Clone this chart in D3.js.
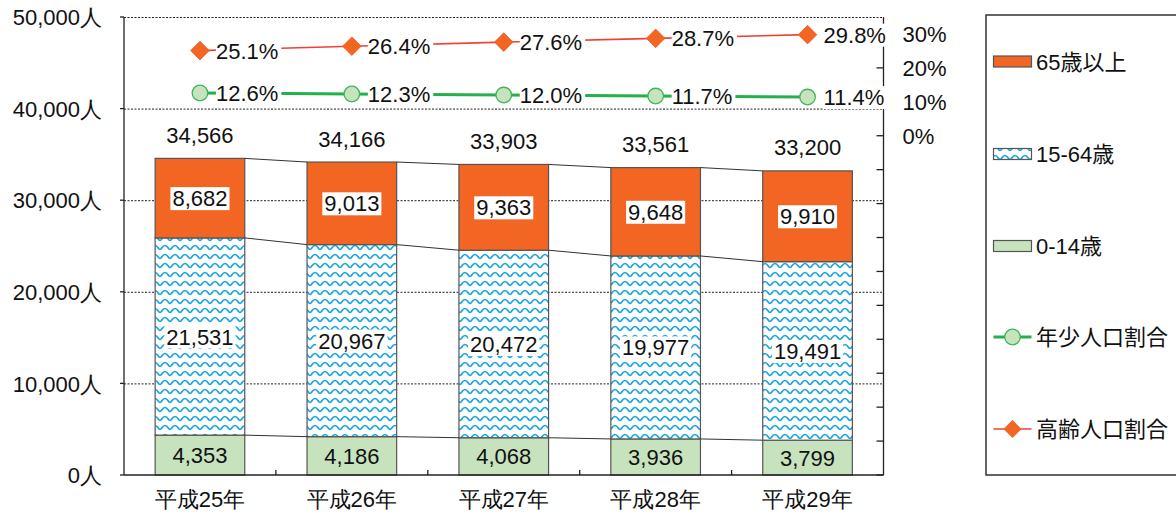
<!DOCTYPE html>
<html><head><meta charset="utf-8">
<script src="https://cdn.jsdelivr.net/npm/d3@7"></script>
<style>
body{margin:0;background:#fff;}
svg{display:block;font-family:"Liberation Sans",Arial,"Noto Sans CJK JP",sans-serif;}
</style></head><body>
<svg id="c" width="1176" height="517"></svg>
<script>
const years = ["平成25年","平成26年","平成27年","平成28年","平成29年"];
const age0_14 = [4353,4186,4068,3936,3799];
const age15_64 = [21531,20967,20472,19977,19491];
const age65 = [8682,9013,9363,9648,9910];
const totals = [34566,34166,33903,33561,33200];
const youthRatio = [12.6,12.3,12.0,11.7,11.4];
const elderRatio = [25.1,26.4,27.6,28.7,29.8];
const leftTicks = [0,10000,20000,30000,40000,50000];
const rightTicks = [-100,-90,-80,-70,-60,-50,-40,-30,-20,-10,0,10,20,30];
const rightLabelTicks = [0,10,20,30];
const legendItems = ["65歳以上","15-64歳","0-14歳","年少人口割合","高齢人口割合"];

const svg = d3.select("#c");
const L=124, R=883.5, T=17, B=475;
const FS=22;
const C_OLD="#F26522", C_YOUNG="#C6E3BE", C_BLUE="#1AA5E1", C_RED="#EE4035", C_GREEN="#25B04C";

const x = d3.scaleBand().domain(years).range([L,R]).paddingInner(0.41).paddingOuter(0.205);
const y = d3.scaleLinear().domain([0,50000]).range([B,T]);
const y2 = d3.scaleLinear().domain([-100,35]).range([B,T]);
const cx = d => x(d)+x.bandwidth()/2;

const defs = svg.append("defs");
const pat = defs.append("pattern").attr("id","wave").attr("patternUnits","userSpaceOnUse")
  .attr("width",10).attr("height",9);
pat.append("rect").attr("width",10).attr("height",9).attr("fill","#fff");
pat.append("path").attr("d","M0,6.5 C2,6.5 2,2.5 5,2.5 C8,2.5 8,6.5 10,6.5")
  .attr("fill","none").attr("stroke",C_BLUE).attr("stroke-width",1.7);

// gridlines
svg.append("g").selectAll("line").data(leftTicks.filter(d=>d>0)).join("line")
  .attr("x1",L).attr("x2",R).attr("y1",d=>y(d)+0.5).attr("y2",d=>y(d)+0.5)
  .attr("stroke","#222").attr("stroke-width",1).attr("stroke-dasharray","2,1.5");

// bars
const segs = [
  {vals:age0_14, base:years.map(()=>0), fill:C_YOUNG},
  {vals:age15_64, base:age0_14, fill:"url(#wave)"},
  {vals:age65, base:age0_14.map((v,i)=>v+age15_64[i]), fill:C_OLD}
];
segs.forEach(s=>{
  svg.append("g").selectAll("rect").data(years).join("rect")
    .attr("x",d=>x(d)).attr("width",x.bandwidth())
    .attr("y",(d,i)=>y(s.base[i]+s.vals[i])).attr("height",(d,i)=>y(s.base[i])-y(s.base[i]+s.vals[i]))
    .attr("fill",s.fill).attr("stroke","#555").attr("stroke-width",1.2);
});

// series connector lines
segs.forEach(s=>{
  const g = svg.append("g");
  for(let i=0;i<years.length-1;i++){
    g.append("line")
      .attr("x1",x(years[i])+x.bandwidth()).attr("x2",x(years[i+1]))
      .attr("y1",y(s.base[i]+s.vals[i])).attr("y2",y(s.base[i+1]+s.vals[i+1]))
      .attr("stroke","#333").attr("stroke-width",1);
  }
});

function labelBox(g, tx, ty, text, anchor, bg, padL, padR){
  const t = g.append("text").attr("x",tx).attr("y",ty).attr("text-anchor",anchor)
    .attr("font-size",FS).attr("fill","#111").text(text);
  if(bg){
    const bb = t.node().getBBox();
    g.insert("rect","text").attr("x",bb.x-padL).attr("y",bb.y+1).attr("width",bb.width+padL+padR).attr("height",bb.height-2).attr("fill","#fff");
  }
  return t;
}

// segment labels
const lab = svg.append("g");
segs.forEach((s,k)=>{
  years.forEach((d,i)=>{
    const yc = (y(s.base[i])+y(s.base[i]+s.vals[i]))/2;
    const g = lab.append("g");
    labelBox(g, cx(d), yc+8, d3.format(",")(s.vals[i]), "middle", k>0, 2, 2);
  });
});
// totals
years.forEach((d,i)=>{
  lab.append("text").attr("x",cx(d)).attr("y",y(totals[i])-15.5).attr("text-anchor","middle")
    .attr("font-size",FS).attr("fill","#111").text(d3.format(",")(totals[i]));
});

// axes
const ax = svg.append("g").attr("stroke","#222").attr("stroke-width",1.3);
ax.append("line").attr("x1",L).attr("x2",L).attr("y1",T).attr("y2",B);
ax.append("line").attr("x1",L).attr("x2",R).attr("y1",B).attr("y2",B);
leftTicks.forEach(v=>{
  ax.append("line").attr("x1",L-4).attr("x2",L).attr("y1",y(v)).attr("y2",y(v));
});
// category boundary ticks
const step = x.step();
for(let i=1;i<years.length;i++){
  const bx = L + step*i;
  ax.append("line").attr("x1",bx).attr("x2",bx).attr("y1",B).attr("y2",B-5);
}
const ya = d3.axisLeft(y).tickValues(leftTicks).tickSize(0).tickFormat(d=>d3.format(",")(d)+"人");
const yg = svg.append("g").attr("transform",`translate(${L-22},0)`).call(ya);
yg.select(".domain").remove();
yg.selectAll("text").attr("font-size",FS).attr("fill","#111").attr("font-family",null).attr("dy","0.35em").attr("x",0);

const xa = d3.axisBottom(x).tickSize(0);
const xg = svg.append("g").attr("transform",`translate(0,${B+17})`).call(xa);
xg.select(".domain").remove();
xg.selectAll("text").attr("font-size",FS).attr("fill","#111").attr("font-family",null).attr("dy","0.55em");

// right axis
const ra = svg.append("g").attr("stroke","#222").attr("stroke-width",1.3);
ra.append("line").attr("x1",R).attr("x2",R).attr("y1",T).attr("y2",B);
rightTicks.forEach(v=>{
  ra.append("line").attr("x1",R-7).attr("x2",R).attr("y1",y2(v)).attr("y2",y2(v));
});
const ya2 = d3.axisRight(y2).tickValues(rightLabelTicks).tickSize(0).tickFormat(d=>d+"%");
const yg2 = svg.append("g").attr("transform",`translate(${R+19},0)`).call(ya2);
yg2.select(".domain").remove();
yg2.selectAll("text").attr("font-size",FS).attr("fill","#111").attr("font-family",null).attr("dy","0.35em").attr("x",0);

// lines
const lineGen = d3.line().x((d,i)=>cx(years[i])).y(d=>y2(d));
svg.append("path").datum(elderRatio).attr("d",lineGen).attr("fill","none").attr("stroke",C_RED).attr("stroke-width",1.6);
svg.append("path").datum(youthRatio).attr("d",lineGen).attr("fill","none").attr("stroke",C_GREEN).attr("stroke-width",3);

const diamond = (px,py,r)=>`M${px},${py-r}L${px+r},${py}L${px},${py+r}L${px-r},${py}Z`;
// line labels (with white bg) then markers
const ll = svg.append("g");
elderRatio.forEach((v,i)=>{
  const g = ll.append("g");
  labelBox(g, cx(years[i])+16, y2(v)+8, v.toFixed(1)+"%", "start", true, 0, 3);
});
youthRatio.forEach((v,i)=>{
  const g = ll.append("g");
  labelBox(g, cx(years[i])+16, y2(v)+8, v.toFixed(1)+"%", "start", true, 0, 3);
});
elderRatio.forEach((v,i)=>{
  svg.append("path").attr("d",diamond(cx(years[i]),y2(v),9.3)).attr("fill",C_OLD).attr("stroke","#F15A24").attr("stroke-width",0.8);
});
youthRatio.forEach((v,i)=>{
  svg.append("circle").attr("cx",cx(years[i])).attr("cy",y2(v)).attr("r",7.8).attr("fill",C_YOUNG).attr("stroke","#3DB65A").attr("stroke-width",1.3);
});

// legend
const lg = svg.append("g");
lg.append("rect").attr("x",986).attr("y",15).attr("width",260).attr("height",460).attr("fill","#fff").attr("stroke","#333").attr("stroke-width",1.5);
const legY = [61.5,154,246,337,429];
const sx0=993.5, sx1=1031.5;
legendItems.forEach((name,i)=>{
  const yy = legY[i];
  if(i<3){
    const fills=[C_OLD,"url(#wave)",C_YOUNG];
    lg.append("rect").attr("x",sx0).attr("y",yy-5.5).attr("width",sx1-sx0).attr("height",11)
      .attr("fill",fills[i]).attr("stroke","#555").attr("stroke-width",1.2);
  } else if(i===3){
    lg.append("line").attr("x1",sx0).attr("x2",sx1).attr("y1",yy).attr("y2",yy).attr("stroke",C_GREEN).attr("stroke-width",3);
    lg.append("circle").attr("cx",(sx0+sx1)/2).attr("cy",yy).attr("r",7.8).attr("fill",C_YOUNG).attr("stroke","#3DB65A").attr("stroke-width",1.3);
  } else {
    lg.append("line").attr("x1",sx0).attr("x2",sx1).attr("y1",yy).attr("y2",yy).attr("stroke",C_RED).attr("stroke-width",1.6);
    lg.append("path").attr("d",diamond((sx0+sx1)/2,yy,9)).attr("fill",C_OLD);
  }
  lg.append("text").attr("x",1036).attr("y",yy+8).attr("font-size",FS).attr("fill","#111").text(name);
});
</script></body></html>
